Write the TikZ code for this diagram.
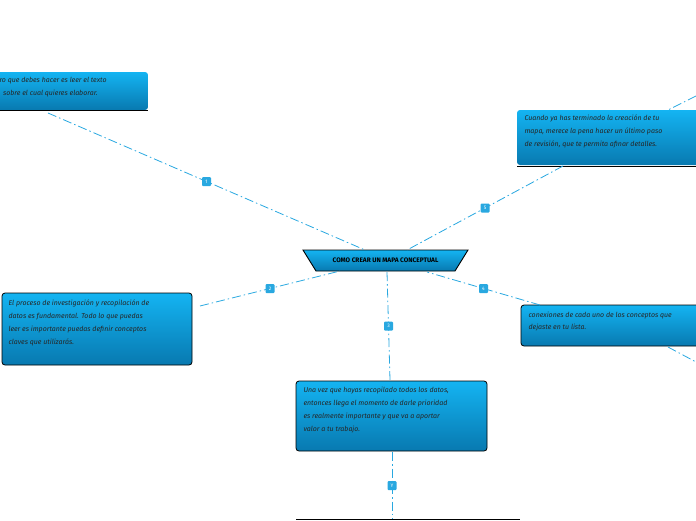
\documentclass[tikz,border=0pt]{standalone}
\usepackage{fontspec}
\setmainfont{Fira Sans}
\definecolor{ln}{HTML}{29A8E0}
\definecolor{topc}{HTML}{14B4F2}
\definecolor{botc}{HTML}{0879B0}
\begin{document}
\begin{tikzpicture}[x=1pt,y=-1pt,
  conn/.style={draw=ln,line width=0.8pt,dash pattern=on 9pt off 3pt on 1.5pt off 3pt},
  lab/.style={fill=ln,text=white,font=\tiny,rounded corners=1pt,inner sep=1.5pt,minimum width=9pt,minimum height=9pt},
  box/.style={top color=topc,bottom color=botc,rounded corners=3pt},
  txt/.style={font=\fontsize{7}{13}\selectfont\itshape,align=left,anchor=north west,text=black!85}]
\useasboundingbox (0,0) rectangle (696,520);
% boxes
\path[box] (-5,72) rectangle (148,110);
\draw[line width=1pt] (0,110.5) -- (148,110.5);
\node[txt] (t1) at (-4,74) {ro que debes hacer es leer el texto\\ \ \ sobre el cual quieres elaborar.};
\path[box] (517,110) rectangle (700,165);
\draw[line width=1pt] (517,166) -- (696,166);
\node[txt] (t5) at (521,111) {Cuando ya has terminado la creación de tu\\mapa, merece la pena hacer un último paso\\de revisión, que te permita afinar detalles.};
\draw[box,draw=black,line width=0.8pt] (2,293) rectangle (192,365);
\node[txt] (t2) at (5,296) {El proceso de investigación y recopilación de\\datos es fundamental. Todo lo que puedas\\leer es importante puedas definir conceptos\\claves que utilizarás.};
\draw[box,draw=black,line width=0.8pt] (521,305) rectangle (702,346);
\node[txt] (t4) at (525,308) {conexiones de cada uno de los conceptos que\\dejaste en tu lista.};
\draw[box,draw=black,line width=0.8pt] (296,381) rectangle (487,451);
\node[txt] (t3) at (300,383) {Una vez que hayas recopilado todos los datos,\\entonces llega el momento de darle prioridad\\es realmente importante y que va a aportar\\valor a tu trabajo.};
\draw[top color=topc,bottom color=botc,draw=black,line width=0.9pt] (303,250) -- (468,250) -- (455,271) -- (316,271) -- cycle;
\node[font=\fontsize{6.5}{8}\selectfont\bfseries] (c) at (385.5,260.5) {COMO CREAR UN MAPA CONCEPTUAL};
\draw[line width=1pt] (296,519.5) -- (520,519.5);
% connectors
\coordinate (a1) at (48,113); \coordinate (b1) at (365,250);
\coordinate (a2) at (200,306); \coordinate (b2) at (340,271);
\coordinate (a3) at (390,380); \coordinate (b3) at (387,272);
\coordinate (a4) at (540,305); \coordinate (b4) at (427,272);
\coordinate (a5) at (563,166); \coordinate (b5) at (407,250);
\coordinate (a6) at (392,452); \coordinate (b6) at (392,519);
\coordinate (p1) at (696,96); \coordinate (q1) at (668,110);
\coordinate (p2) at (668,347); \coordinate (q2) at (696,362);
\foreach \a/\b/\l in {a1/b1/1,a2/b2/2,a3/b3/3,a4/b4/4,a5/b5/5,a6/b6/Y}{
  \draw[conn] (\a) -- (\b) node[pos=0.5,lab,solid] {\l};
}
\draw[conn] (p1) -- (q1);
\draw[conn] (p2) -- (q2);
\end{tikzpicture}
\end{document}
